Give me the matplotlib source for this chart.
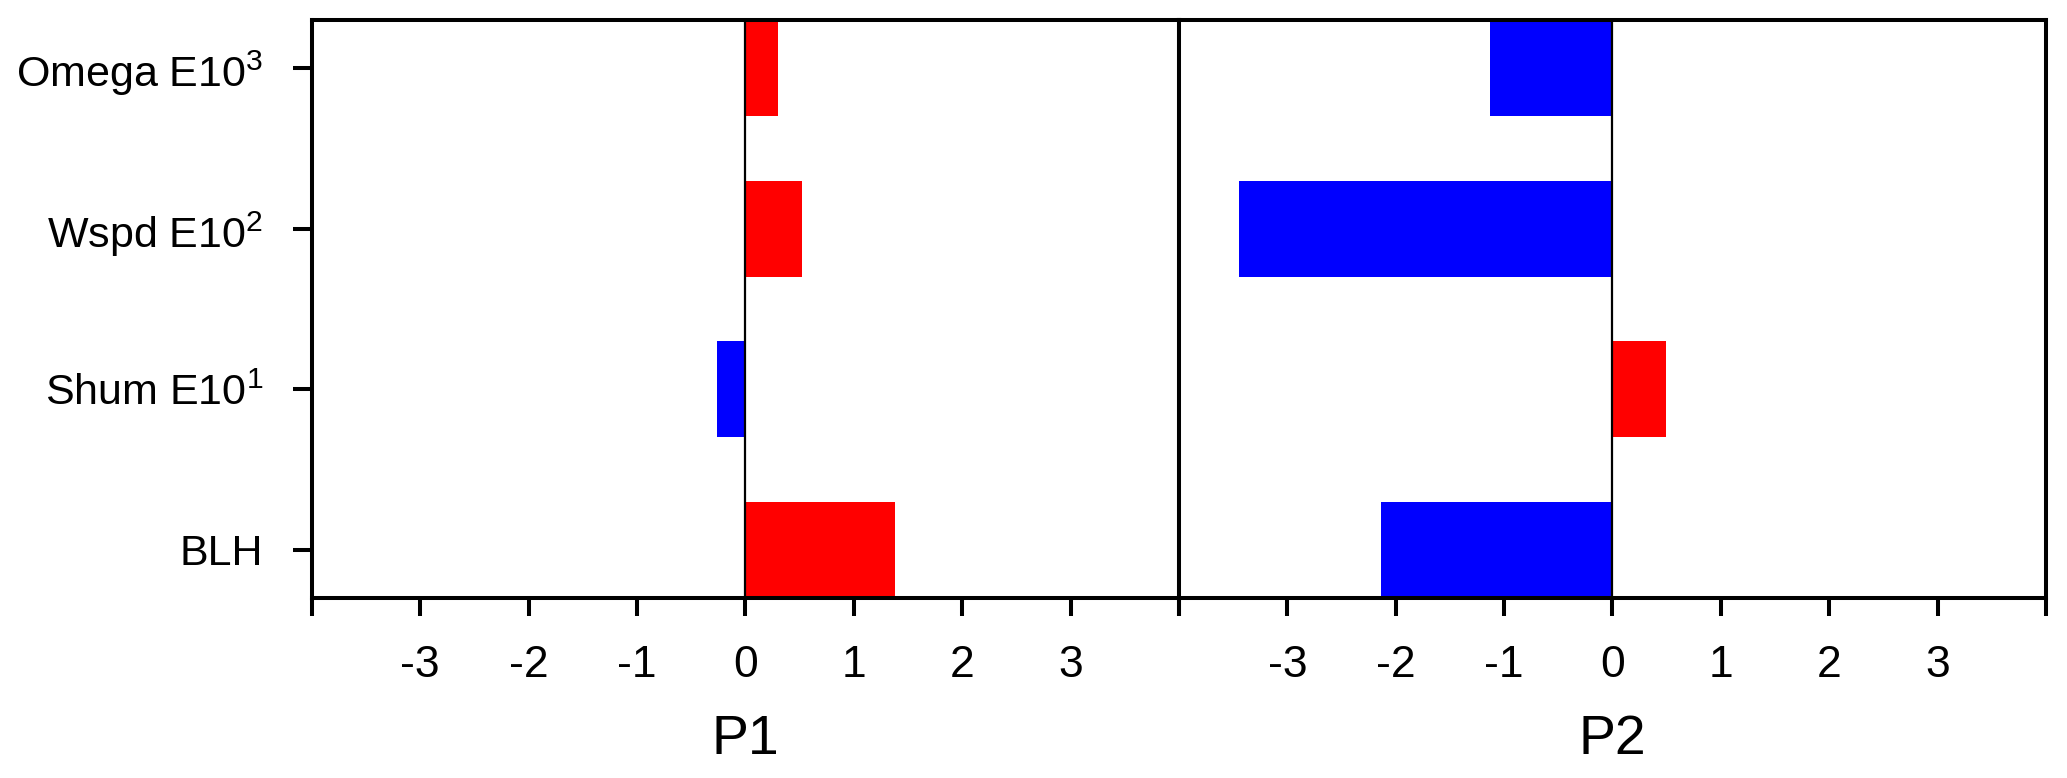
import matplotlib.pyplot as plt
import numpy as np

plt.rcParams['font.family'] = ['Liberation Sans', 'DejaVu Sans']
plt.rcParams['mathtext.fontset'] = 'custom'
plt.rcParams['mathtext.rm'] = 'Liberation Sans'
plt.rcParams['mathtext.default'] = 'regular'

# variables (bas -> haut)
variables = ['BLH', 'Shum E10$^{1}$', 'Wspd E10$^{2}$', 'Omega E10$^{3}$']
panneaux = ['P1', 'P2']
p1 = [1.38, -0.26, 0.52, 0.30]
p2 = [-2.14, 0.49, -3.45, -1.13]
valeurs = [p1, p2]

xticks = [-4, -3, -2, -1, 0, 1, 2, 3, 4]
xlabels = ['', '-3', '-2', '-1', '0', '1', '2', '3', '']

fig = plt.figure(figsize=(20.67, 7.78), dpi=100)
gauche, droite, milieu = 0.1509, 0.9898, 0.5704
bas, haut = 0.2314, 0.9743

axes = [fig.add_axes([gauche, bas, milieu - gauche, haut - bas]),
        fig.add_axes([milieu, bas, droite - milieu, haut - bas])]

y = np.arange(len(variables))
for i, ax in enumerate(axes):
    v = np.array(valeurs[i])
    couleurs = ['#ff0000' if val > 0 else '#0000ff' for val in v]
    ax.barh(y, v, height=0.6, color=couleurs, zorder=2)
    ax.axvline(0, color='k', lw=1.6, zorder=3)
    ax.set_xlim(-4, 4)
    ax.set_ylim(-0.3, 3.3)
    ax.set_xticks(xticks)
    ax.set_xticklabels(xlabels, fontsize=32)
    ax.set_xlabel(panneaux[i], fontsize=40, labelpad=20)
    for s in ax.spines.values():
        s.set_linewidth(2.9)
    ax.tick_params(axis='x', direction='out', length=13, width=2.9, pad=21)
    if i == 0:
        ax.set_yticks(y)
        ax.set_yticklabels(variables, fontsize=31)
        ax.tick_params(axis='y', direction='out', length=14, width=2.9, pad=21)
    else:
        ax.set_yticks([])

fig.savefig('out.png', dpi=100)
